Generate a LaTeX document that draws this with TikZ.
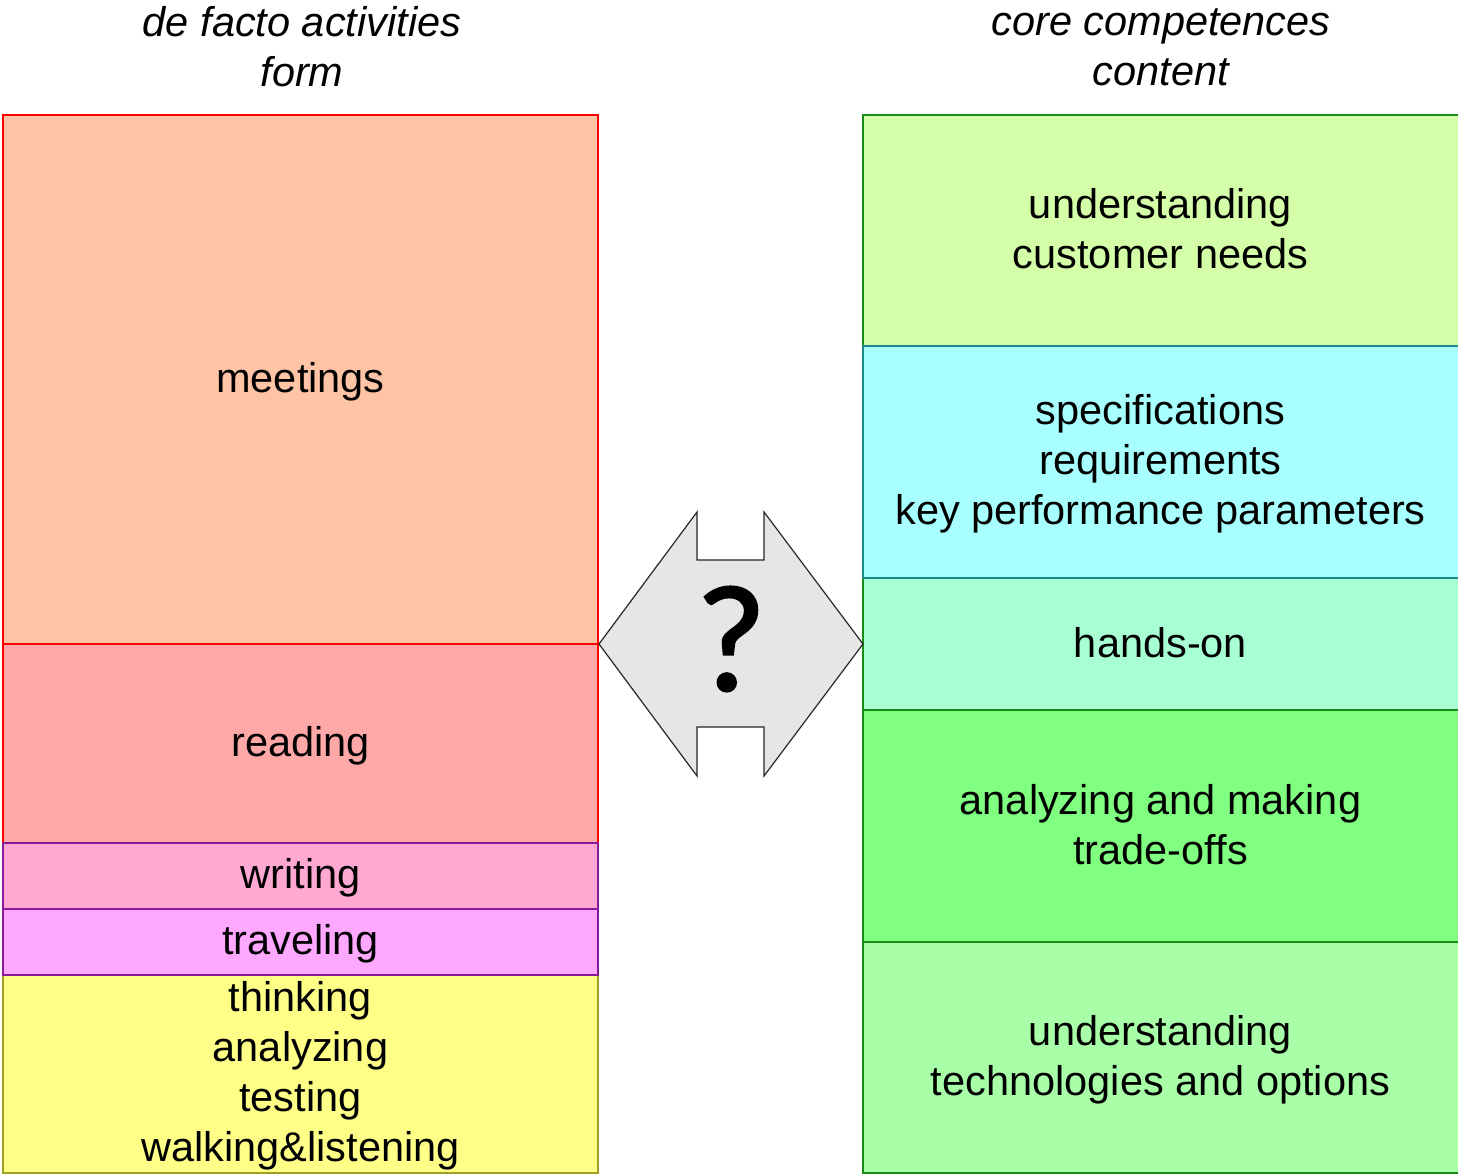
\documentclass[tikz,border=0pt]{standalone}
\usepackage{fontspec}
\setmainfont{Liberation Sans}
\newfontfamily\qfont[FakeBold=1.5]{Carlito}
\definecolor{cMeet}{HTML}{FFC4A6}
\definecolor{cRead}{HTML}{FFA8A8}
\definecolor{cWrite}{HTML}{FFA8D2}
\definecolor{cTravel}{HTML}{FFA8FF}
\definecolor{cThink}{HTML}{FFFF88}
\definecolor{cCust}{HTML}{D4FFA8}
\definecolor{cSpec}{HTML}{A8FFFF}
\definecolor{cHands}{HTML}{A8FFD4}
\definecolor{cAnal}{HTML}{80FF80}
\definecolor{cTech}{HTML}{A8FFA8}
\definecolor{bRed}{HTML}{FF0000}
\definecolor{bPurple}{HTML}{8A1A9A}
\definecolor{bOlive}{HTML}{A0A020}
\definecolor{bGreen}{HTML}{1A8A1A}
\definecolor{bTeal}{HTML}{1A8A8A}
\definecolor{cArrow}{HTML}{E6E6E6}
\tikzset{
  txt/.style={font=\fontsize{41.5}{50}\selectfont, align=center, inner sep=0pt},
  ttl/.style={font=\fontsize{41.5}{50}\selectfont\itshape, align=center, inner sep=0pt},
  blk/.style={rectangle, draw, line width=1.6pt, anchor=north west, inner sep=0pt, outer sep=0pt},
  lblk/.style={blk, minimum width=595pt},
  rblk/.style={blk, minimum width=600pt},
}
\begin{document}
\begin{tikzpicture}[x=1pt,y=-1pt]
\useasboundingbox (0,0) rectangle (1458,1175);
% titles
\node[ttl] (tl) at (302,47) {de facto activities\\form};
\node[ttl] (tr) at (1161,47) {core competences\\content};
% left column
\node[lblk, fill=cMeet, draw=bRed, minimum height=529pt] (meet) at (3,115) {};
\node[lblk, fill=cRead, draw=bRed, minimum height=199pt] (read) at (3,644) {};
\node[lblk, fill=cThink, draw=bOlive, minimum height=198pt] (think) at (3,975) {};
\node[lblk, fill=cWrite, draw=bPurple, minimum height=66pt] (write) at (3,843) {};
\node[lblk, fill=cTravel, draw=bPurple, minimum height=66pt] (travel) at (3,909) {};
\node[txt] (tmeet) at ([yshift=-2pt]meet.center) {meetings};
\node[txt] (tread) at ([yshift=-2pt]read.center) {reading};
\node[txt] (twrite) at ([yshift=-2pt]write.center) {writing};
\node[txt] (ttravel) at ([yshift=-2pt]travel.center) {traveling};
\node[txt] (tthink) at ([yshift=-2pt]think.center) {thinking\\analyzing\\testing\\walking\&listening};
% right column
\node[rblk, fill=cCust, draw=bGreen, minimum height=231pt] (cust) at (863,115) {};
\node[rblk, fill=cHands, draw=bGreen, minimum height=132pt] (hands) at (863,578) {};
\node[rblk, fill=cSpec, draw=bTeal, minimum height=232pt] (spec) at (863,346) {};
\node[rblk, fill=cAnal, draw=bGreen, minimum height=232pt] (anal) at (863,710) {};
\node[rblk, fill=cTech, draw=bGreen, minimum height=231pt] (tech) at (863,942) {};
\node[txt] (tcust) at ([xshift=-2.5pt,yshift=2pt]cust.center) {understanding\\customer needs};
\node[txt] (tspec) at ([xshift=-2.5pt,yshift=-2pt]spec.center) {specifications\\requirements\\key performance parameters};
\node[txt] (thands) at ([xshift=-2.5pt,yshift=1pt]hands.center) {hands-on};
\node[txt] (tanal) at ([xshift=-2.5pt,yshift=1pt]anal.center) {analyzing and making\\trade-offs};
\node[txt] (ttech) at ([xshift=-2.5pt,yshift=-2pt]tech.center) {understanding\\technologies and options};
% double arrow with notches
\draw[fill=cArrow, draw=black!85, line width=1.2pt, line join=miter]
  (599,644) -- (697,512) -- (697,560) -- (764,560) -- (764,512) -- (863,644)
  -- (764,776) -- (764,727) -- (697,727) -- (697,776) -- cycle;
\node[font=\qfont\fontsize{152}{152}\selectfont, inner sep=0pt] (q) at (731,639) {?};
\end{tikzpicture}
\end{document}
